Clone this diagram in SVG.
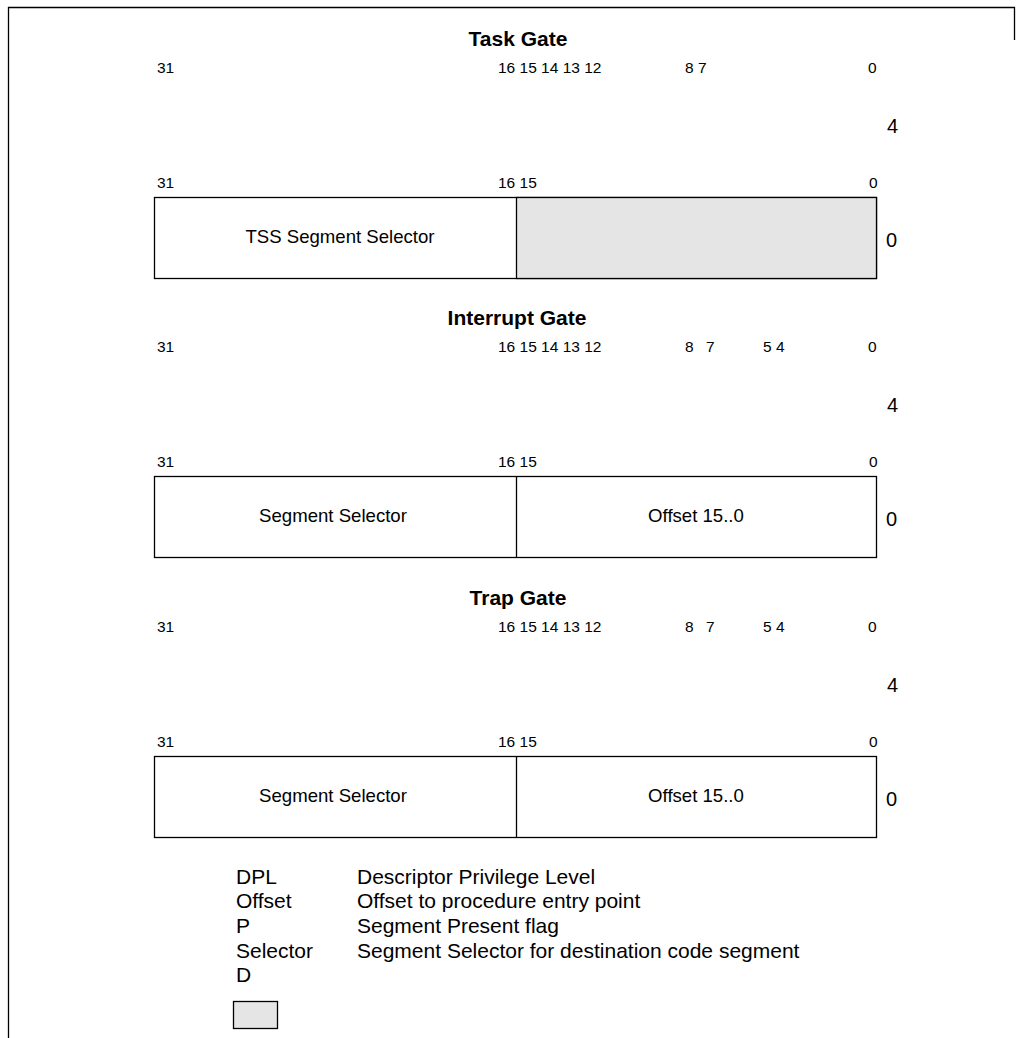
<svg xmlns="http://www.w3.org/2000/svg" width="1024" height="1038" viewBox="0 0 1024 1038">
<style>
text{font-family:"Liberation Sans",Arial,sans-serif;fill:#000}
.t{font-size:21px;font-weight:bold;text-anchor:middle}
.b{font-size:15.5px}
.r{font-size:20px}
.c{font-size:18.6px;text-anchor:middle}
.l{font-size:21px}
.box{fill:#fff;stroke:#000;stroke-width:1.3}
.g{fill:#e5e5e5}
.line{stroke:#000;stroke-width:1.3;fill:none}
</style>
<rect width="1024" height="1038" fill="#fff"/>
<g id="frame">
<path class="line" d="M8.5,1038 V7.5 H1014.5 V40"/>
</g>
<g id="task-gate">
<text class="t" x="518" y="46">Task Gate</text>
<text class="b" x="157" y="73">31</text>
<text class="b" x="498" y="73">16 15 14 13 12</text>
<text class="b" x="685" y="73">8 7</text>
<text class="b" x="868" y="73">0</text>
<text class="r" x="887" y="133">4</text>
<text class="b" x="157" y="188">31</text>
<text class="b" x="498" y="188">16 15</text>
<text class="b" x="869" y="188">0</text>
<rect class="box" x="154.5" y="197.5" width="722" height="81"/>
<rect class="box g" x="516.5" y="197.5" width="360" height="81"/>
<text class="c" x="340" y="243">TSS Segment Selector</text>
<text class="r" x="886" y="247">0</text>
</g>
<g id="interrupt-gate">
<text class="t" x="517" y="325">Interrupt Gate</text>
<text class="b" x="157" y="352">31</text>
<text class="b" x="498" y="352">16 15 14 13 12</text>
<text class="b" x="685" y="352">8</text>
<text class="b" x="706" y="352">7</text>
<text class="b" x="763" y="352">5 4</text>
<text class="b" x="868" y="352">0</text>
<text class="r" x="887" y="412">4</text>
<text class="b" x="157" y="467">31</text>
<text class="b" x="498" y="467">16 15</text>
<text class="b" x="869" y="467">0</text>
<rect class="box" x="154.5" y="476.5" width="722" height="81"/>
<line class="line" x1="516.5" y1="476.5" x2="516.5" y2="557.5"/>
<text class="c" x="333" y="522">Segment Selector</text>
<text class="c" x="696" y="522">Offset 15..0</text>
<text class="r" x="886" y="526">0</text>
</g>
<g id="trap-gate">
<text class="t" x="518" y="605">Trap Gate</text>
<text class="b" x="157" y="632">31</text>
<text class="b" x="498" y="632">16 15 14 13 12</text>
<text class="b" x="685" y="632">8</text>
<text class="b" x="706" y="632">7</text>
<text class="b" x="763" y="632">5 4</text>
<text class="b" x="868" y="632">0</text>
<text class="r" x="887" y="692">4</text>
<text class="b" x="157" y="747">31</text>
<text class="b" x="498" y="747">16 15</text>
<text class="b" x="869" y="747">0</text>
<rect class="box" x="154.5" y="756.5" width="722" height="81"/>
<line class="line" x1="516.5" y1="756.5" x2="516.5" y2="837.5"/>
<text class="c" x="333" y="802">Segment Selector</text>
<text class="c" x="696" y="802">Offset 15..0</text>
<text class="r" x="886" y="806">0</text>
</g>
<g id="legend">
<text class="l" x="236" y="884">DPL</text>
<text class="l" x="357" y="884">Descriptor Privilege Level</text>
<text class="l" x="236" y="908">Offset</text>
<text class="l" x="357" y="908">Offset to procedure entry point</text>
<text class="l" x="236" y="933">P</text>
<text class="l" x="357" y="933">Segment Present flag</text>
<text class="l" x="236" y="958">Selector</text>
<text class="l" x="357" y="958">Segment Selector for destination code segment</text>
<text class="l" x="236" y="982">D</text>
<rect class="box g" x="233.5" y="1001.5" width="44" height="27"/>
</g>
<g id="connectors"></g>
</svg>
